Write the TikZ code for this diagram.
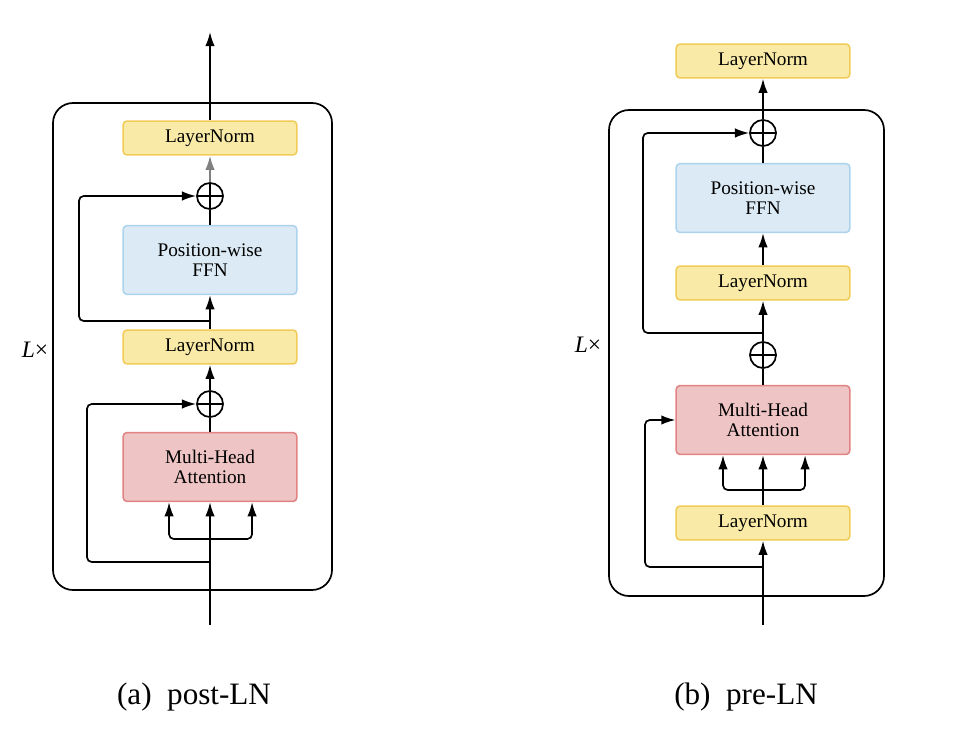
\documentclass[tikz,border=0pt]{standalone}
\usepackage{fontspec}
\setmainfont{Liberation Serif}
\usetikzlibrary{arrows.meta}
\definecolor{lnfill}{RGB}{249,235,167}
\definecolor{lndraw}{RGB}{241,203,88}
\definecolor{ffnfill}{RGB}{219,234,244}
\definecolor{ffndraw}{RGB}{172,210,238}
\definecolor{mhafill}{RGB}{238,196,196}
\definecolor{mhadraw}{RGB}{226,130,130}

\begin{document}
\begin{tikzpicture}[x=0.53pt,y=-0.53pt,line width=0.9pt,
    arr/.style={-{Latex[length=7.5pt,width=5pt]}},
    skip/.style={arr,rounded corners=2.5pt},
    blk/.style={rounded corners=2pt,line width=0.8pt,minimum width=92pt,align=center,
        font=\fontsize{10.2}{10.8}\selectfont},
    ln/.style={blk,draw=lndraw,fill=lnfill,minimum height=18pt},
    ffn/.style={blk,draw=ffndraw,fill=ffnfill,minimum height=36.5pt},
    mha/.style={blk,draw=mhadraw,fill=mhafill,minimum height=36.5pt},
    add/.style={circle,draw,inner sep=0pt,minimum size=13.8pt,
        path picture={\draw (path picture bounding box.north) -- (path picture bounding box.south)
            (path picture bounding box.west) -- (path picture bounding box.east);}},
    captext/.style={font=\fontsize{16.5}{18}\selectfont}]
    \useasboundingbox (0,0) rectangle (972,751);

    % (a) post-LN
    \draw[rounded corners=10.6pt] (53,103) rectangle (332,590);
    \node[font=\fontsize{12.5}{14}\selectfont] (alx) at (35,350) {\textit{L}×};
    \node[ln] (aln1) at (210,138) {LayerNorm};
    \node[add] (aadd2) at (210,196) {};
    \node[ffn] (affn) at (210,260) {Position-wise\\FFN};
    \node[ln] (aln2) at (210,347) {LayerNorm};
    \node[add] (aadd1) at (210,404) {};
    \node[mha] (amha) at (210,467) {Multi-Head\\Attention};
    \coordinate (aout) at (210,32);
    \coordinate (ain) at (210,625);
    \coordinate (askip2) at (210,321);
    \coordinate (askip1) at (210,562);
    \coordinate (asplit) at (210,539);
    \draw[arr] (aln1) -- (aout);
    \draw[arr,gray] (aadd2) -- (aln1);
    \draw (affn) -- (aadd2);
    \draw[arr] (aln2) -- (affn);
    \draw[skip] (askip2) -- ++(-131,0) |- (aadd2);
    \draw[arr] (aadd1) -- (aln2);
    \draw (amha) -- (aadd1);
    \draw[arr] (ain) -- (amha);
    \draw[skip] (asplit) -| ([xshift=-21.7pt]amha.south);
    \draw[skip] (asplit) -| ([xshift=22.3pt]amha.south);
    \draw[skip] (askip1) -- ++(-123,0) |- (aadd1);
    \node[captext] (capa) at (194,697) {(a)\hspace{0.5em}post-LN};

    % (b) pre-LN
    \draw[rounded corners=10.6pt] (609,110) rectangle (884,596);
    \node[font=\fontsize{12.5}{14}\selectfont] (blx) at (588,345) {\textit{L}×};
    \node[ln] (bln1) at (763,61) {LayerNorm};
    \node[add] (badd2) at (763,133) {};
    \node[ffn] (bffn) at (763,198) {Position-wise\\FFN};
    \node[ln] (bln2) at (763,283) {LayerNorm};
    \node[add] (badd1) at (763,355) {};
    \node[mha] (bmha) at (763,420) {Multi-Head\\Attention};
    \node[ln] (bln3) at (763,523) {LayerNorm};
    \coordinate (bin) at (763,625);
    \coordinate (bskip2) at (763,333);
    \coordinate (bskip1) at (763,567);
    \coordinate (bsplit) at (763,490);
    \draw[arr] (badd2) -- (bln1);
    \draw (bffn) -- (badd2);
    \draw[arr] (bln2) -- (bffn);
    \draw[arr] (badd1) -- (bln2);
    \draw[skip] (bskip2) -- ++(-120,0) |- (badd2);
    \draw (bmha) -- (badd1);
    \draw[arr] (bln3) -- (bmha);
    \draw[skip] (bsplit) -| ([xshift=-21.2pt]bmha.south);
    \draw[skip] (bsplit) -| ([xshift=22.3pt]bmha.south);
    \draw[arr] (bin) -- (bln3);
    \draw[skip] (bskip1) -- ++(-118,0) |- (bmha);
    \node[captext] (capb) at (746,697) {(b)\hspace{0.5em}pre-LN};
\end{tikzpicture}
\end{document}
